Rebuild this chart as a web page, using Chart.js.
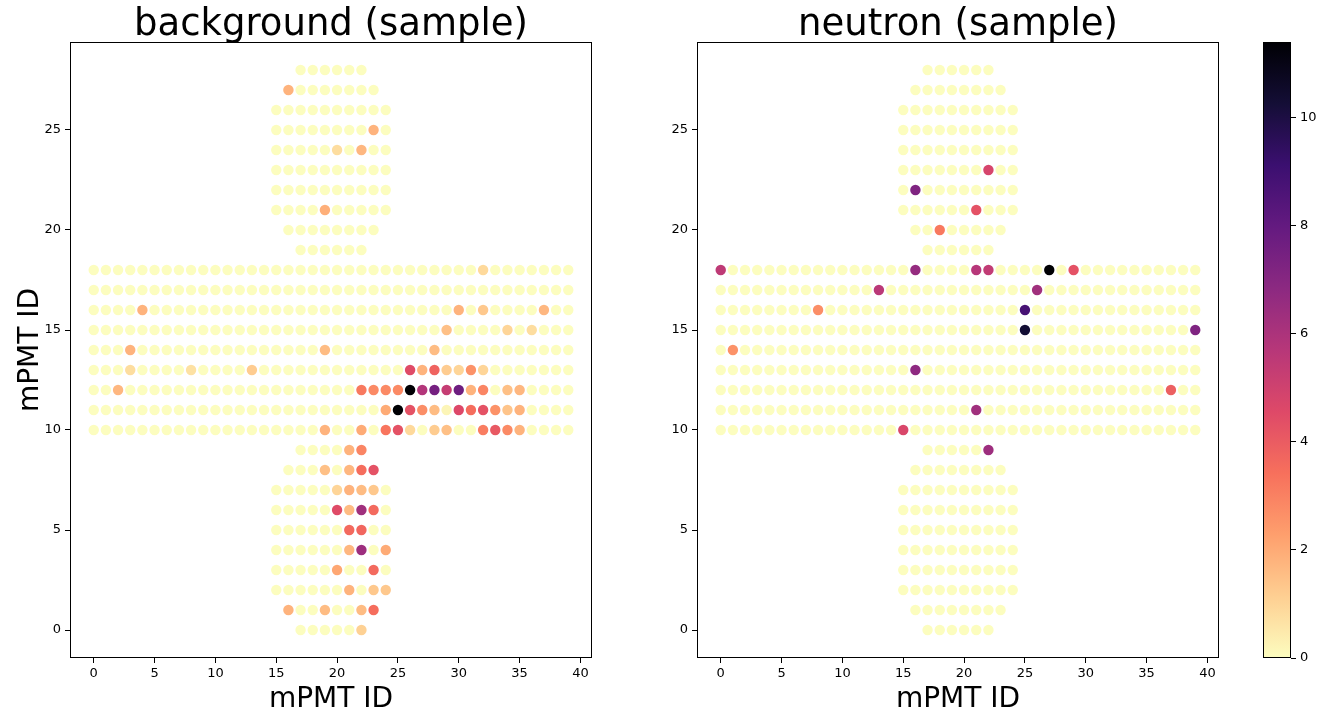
<!DOCTYPE html>
<html><head><meta charset="utf-8">
<script src="https://cdn.jsdelivr.net/npm/chart.js@4.4.1/dist/chart.umd.min.js"></script>
<style>
html,body{margin:0;padding:0;background:#fff;}
#wrap{position:relative;width:1332px;height:717px;overflow:hidden;background:#fff;}
.c{position:absolute;top:0;height:717px;}
</style></head><body>
<div id="wrap">
<div class="c" style="left:0;width:600px"><canvas id="bg"></canvas></div>
<div class="c" style="left:627px;width:600px"><canvas id="nu"></canvas></div>
<div class="c" style="left:1230px;width:102px"><canvas id="cb"></canvas></div>
</div>
<script>
// detector layout: each row y has mPMTs from rowXStart to rowXEnd
const rowY      = [28,27,26,25,24,23,22,21,20,19,18,17,16,15,14,13,12,11,10, 9, 8, 7, 6, 5, 4, 3, 2, 1, 0];
const rowXStart = [17,16,15,15,15,15,15,15,16,17, 0, 0, 0, 0, 0, 0, 0, 0, 0,17,16,15,15,15,15,15,15,16,17];
const rowXEnd   = [22,23,24,24,24,24,24,24,23,22,39,39,39,39,39,39,39,39,39,22,23,24,24,24,24,24,24,23,22];

// non-zero hits [x, y, value]; every other mPMT reads 0
const backgroundHits = [
  [16,27,1.8],[23,25,1.8],[20,24,0.8],[22,24,1.7],[19,21,1.9],
  [32,18,0.9],
  [4,16,1.8],[30,16,1.8],[32,16,1.3],[37,16,1.7],
  [29,15,1.5],[34,15,1.0],[36,15,0.8],
  [3,14,1.8],[19,14,1.6],[28,14,1.6],
  [3,13,0.8],[8,13,0.7],[13,13,1.2],[26,13,4.5],[27,13,1.8],[28,13,3.8],[29,13,1.2],[30,13,1.0],[31,13,2.6],[32,13,1.0],
  [2,12,1.7],[22,12,3.2],[23,12,2.8],[24,12,2.8],[25,12,2.8],[26,12,11.4],[27,12,5.8],[28,12,7.5],[29,12,5.3],[30,12,7.7],[31,12,1.8],[32,12,2.9],[34,12,1.5],[35,12,1.7],
  [24,11,2.0],[25,11,11.4],[26,11,4.3],[27,11,2.7],[28,11,1.6],[29,11,0.2],[30,11,4.6],[31,11,3.5],[32,11,4.3],[33,11,2.6],[34,11,1.4],[35,11,1.8],
  [19,10,1.8],[22,10,2.0],[24,10,3.3],[25,10,4.3],[26,10,0.9],[28,10,1.2],[29,10,1.5],[32,10,3.1],[33,10,4.1],[34,10,2.8],[35,10,1.8],
  [21,9,1.8],[22,9,2.9],
  [19,8,1.5],[21,8,1.7],[22,8,3.5],[23,8,4.3],
  [20,7,1.0],[21,7,1.8],[22,7,1.6],[23,7,1.3],
  [20,6,4.5],[21,6,1.6],[22,6,6.3],[23,6,3.6],
  [21,5,3.6],[22,5,3.7],
  [21,4,1.7],[22,4,6.4],[24,4,2.0],
  [20,3,2.1],[23,3,3.6],
  [21,2,1.8],[23,2,1.3],[24,2,1.3],
  [16,1,1.8],[19,1,1.6],[22,1,1.6],[23,1,3.5],
  [22,0,1.1]
];
const neutronHits = [
  [22,23,4.8],[16,22,7.2],[21,21,4.3],[18,20,3.2],
  [0,18,5.5],[16,18,6.6],[21,18,5.7],[22,18,5.4],[27,18,11.4],[29,18,4.3],
  [13,17,5.6],[26,17,6.3],
  [8,16,2.7],[25,16,8.8],
  [25,15,10.3],[39,15,7.2],
  [1,14,2.6],
  [16,13,6.8],
  [37,12,3.9],
  [21,11,6.3],
  [15,10,4.7],
  [22,9,6.4]
];

const xTicks = [0,5,10,15,20,25,30,35,40];
const yTicks = [0,5,10,15,20,25];
const colorbarTicks = [0,2,4,6,8,10];
const colorMax = 11.4;
// magma colormap samples at t = 0, 0.1, ..., 1
const magmaStops = ['#000004','#140e36','#3b0f70','#641a80','#8c2981','#b73779','#de4968','#f7705c','#fe9f6d','#fecf92','#fcfdbf'];

function hex2rgb(h){return [parseInt(h.slice(1,3),16),parseInt(h.slice(3,5),16),parseInt(h.slice(5,7),16)];}
function magmaR(v){
  let t = 1 - Math.max(0, Math.min(1, v / colorMax));
  const f = t * 10, i = Math.min(9, Math.floor(f)), r = f - i;
  const a = hex2rgb(magmaStops[i]), b = hex2rgb(magmaStops[i+1]);
  const c = a.map((av,k)=>Math.round(av + (b[k]-av)*r));
  return `rgb(${c[0]},${c[1]},${c[2]})`;
}
function buildPoints(hits){
  const m = new Map(hits.map(h=>[h[0]+','+h[1], h[2]]));
  const pts = [], cols = [];
  for (let r=0;r<rowY.length;r++){
    for (let x=rowXStart[r]; x<=rowXEnd[r]; x++){
      const v = m.get(x+','+rowY[r]) || 0;
      pts.push({x:x, y:rowY[r], v:v});
      cols.push(magmaR(v));
    }
  }
  return {pts, cols};
}

const FONT = "'DejaVu Sans', 'Liberation Sans', sans-serif";

const framePlugin = {
  id:'frame',
  afterDraw(chart){
    const {ctx, chartArea:a} = chart;
    ctx.save();
    ctx.strokeStyle = '#000'; ctx.lineWidth = 1;
    const l = Math.round(a.left)+0.5, t = Math.round(a.top)+0.5;
    const r = Math.round(a.right)-0.5, b = Math.round(a.bottom)-0.5;
    ctx.strokeRect(l, t, r-l, b-t);
    const title = chart.options.plugins.panelTitle && chart.options.plugins.panelTitle.text;
    if (title){
      ctx.fillStyle = '#000';
      ctx.font = `37px ${FONT}`;
      ctx.textAlign = 'center'; ctx.textBaseline = 'alphabetic';
      ctx.fillText(title, (a.left+a.right)/2, 35);
    }
    ctx.restore();
  }
};

function panelConfig(hits, title, showYTitle){
  const d = buildPoints(hits);
  return {
    type:'scatter',
    data:{datasets:[{data:d.pts, pointBackgroundColor:d.cols, pointBorderWidth:0, pointRadius:5.2, pointHoverRadius:5.2}]},
    options:{
      responsive:true, maintainAspectRatio:false, animation:false,
      events:[],
      layout:{padding:{top:42,right:8,bottom:0,left:0}},
      plugins:{legend:{display:false}, tooltip:{enabled:false}, panelTitle:{text:title}},
      scales:{
        x:{type:'linear', min:-1.95, max:40.95,
          afterBuildTicks:s=>{s.ticks = xTicks.map(v=>({value:v}));},
          afterFit:s=>{s.height = 59;},
          grid:{display:true, drawOnChartArea:false, drawTicks:true, tickLength:5, color:'#000', lineWidth:1},
          border:{display:false},
          ticks:{color:'#000', font:{family:FONT, size:13}, padding:3, maxRotation:0, autoSkip:false},
          title:{display:true, text:'mPMT ID', color:'#000', font:{family:FONT, size:28}, padding:{top:0,bottom:0}}
        },
        y:{type:'linear', min:-1.4, max:29.4,
          afterBuildTicks:s=>{s.ticks = yTicks.map(v=>({value:v}));},
          afterFit:s=>{s.width = 70;},
          grid:{display:true, drawOnChartArea:false, drawTicks:true, tickLength:5, color:'#000', lineWidth:1},
          border:{display:false},
          ticks:{color:'#000', font:{family:FONT, size:13}, padding:4, autoSkip:false},
          title:{display:showYTitle, text:'mPMT ID', color:'#000', font:{family:FONT, size:28}, padding:{top:14,bottom:0}}
        }
      }
    },
    plugins:[framePlugin]
  };
}

new Chart(document.getElementById('bg'), panelConfig(backgroundHits, 'background (sample)', true));
new Chart(document.getElementById('nu'), panelConfig(neutronHits, 'neutron (sample)', false));

const colorbarFill = {
  id:'cbfill',
  beforeDatasetsDraw(chart){
    const {ctx, chartArea:a} = chart;
    const g = ctx.createLinearGradient(0, a.bottom, 0, a.top);
    for (let i=0;i<=10;i++) g.addColorStop(i/10, magmaStops[10-i]);
    ctx.save(); ctx.fillStyle = g;
    ctx.fillRect(a.left, a.top, a.right-a.left, a.bottom-a.top);
    ctx.restore();
  }
};

new Chart(document.getElementById('cb'), {
  type:'scatter',
  data:{datasets:[{data:[]}]},
  options:{
    responsive:true, maintainAspectRatio:false, animation:false, events:[],
    layout:{padding:{top:42,left:33,right:0,bottom:59}},
    plugins:{legend:{display:false}, tooltip:{enabled:false}},
    scales:{
      x:{display:false, min:0, max:1},
      y:{position:'right', type:'linear', min:0, max:colorMax,
        afterBuildTicks:s=>{s.ticks = colorbarTicks.map(v=>({value:v}));},
        afterFit:s=>{s.width = 41;},
        grid:{display:true, drawOnChartArea:false, drawTicks:true, tickLength:5, color:'#000', lineWidth:1},
        border:{display:false},
        ticks:{color:'#000', font:{family:FONT, size:13}, padding:4, autoSkip:false}
      }
    }
  },
  plugins:[colorbarFill, framePlugin]
});
</script>
</body></html>
